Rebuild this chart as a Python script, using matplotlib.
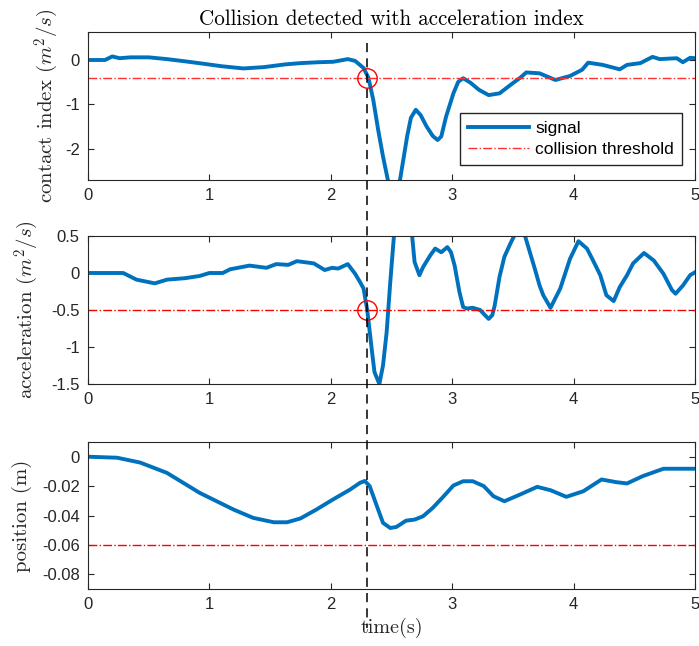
import numpy as np
import matplotlib
matplotlib.use("Agg")
import matplotlib.pyplot as plt
import matplotlib.transforms as mtransforms

plt.rcParams['mathtext.fontset'] = 'cm'
plt.rcParams['font.family'] = 'Liberation Sans'
plt.rcParams['axes.unicode_minus'] = False

# data
t_ci = [0, 0.14, 0.2, 0.26, 0.35, 0.5, 0.65, 0.8, 0.94, 1.1, 1.28, 1.45, 1.62,
        1.75, 1.9, 2.02, 2.14, 2.2, 2.27, 2.31, 2.35, 2.39, 2.43, 2.47, 2.52,
        2.57, 2.60, 2.63, 2.66, 2.70, 2.74, 2.79, 2.84, 2.88, 2.91, 2.95, 3.01,
        3.05, 3.09, 3.15, 3.22, 3.30, 3.39, 3.50, 3.56, 3.61, 3.72, 3.85, 3.97,
        4.07, 4.12, 4.24, 4.38, 4.44, 4.55, 4.65, 4.71, 4.85, 4.90, 4.96, 5.0]
ci = [0, 0, 0.08, 0.04, 0.06, 0.06, 0.02, -0.03, -0.08, -0.14, -0.19, -0.16,
      -0.1, -0.07, -0.05, -0.04, 0.02, -0.02, -0.18, -0.4, -0.9, -1.57, -2.17,
      -2.7, -3.0, -2.7, -2.2, -1.7, -1.3, -1.12, -1.24, -1.5, -1.71, -1.80,
      -1.72, -1.27, -0.75, -0.49, -0.41, -0.51, -0.67, -0.79, -0.75, -0.52,
      -0.4, -0.28, -0.3, -0.45, -0.36, -0.22, -0.06, -0.11, -0.21, -0.11,
      -0.07, 0.07, 0.02, 0.04, -0.05, 0.05, 0.04]

t_acc = [0, 0.29, 0.40, 0.55, 0.65, 0.8, 0.92, 1.0, 1.11, 1.17, 1.33, 1.47,
         1.55, 1.65, 1.72, 1.86, 1.95, 2.01, 2.06, 2.14, 2.20, 2.24, 2.27,
         2.30, 2.34, 2.36, 2.40, 2.43, 2.46, 2.49, 2.52, 2.56, 2.59, 2.63,
         2.67, 2.69, 2.73, 2.76, 2.82, 2.86, 2.91, 2.96, 2.99, 3.02, 3.06,
         3.09, 3.12, 3.17, 3.23, 3.27, 3.30, 3.33, 3.35, 3.39, 3.43, 3.48,
         3.51, 3.55, 3.60, 3.64, 3.68, 3.72, 3.75, 3.81, 3.89, 3.97, 4.04,
         4.11, 4.16, 4.22, 4.27, 4.33, 4.38, 4.44, 4.49, 4.58, 4.66, 4.74,
         4.81, 4.84, 4.90, 4.96, 5.0]
acc = [0, 0, -0.09, -0.14, -0.09, -0.07, -0.04, 0.0, 0.0, 0.05, 0.1, 0.07,
       0.12, 0.11, 0.16, 0.13, 0.04, 0.07, 0.06, 0.12, -0.01, -0.12, -0.21,
       -0.5, -1.07, -1.34, -1.5, -1.25, -0.80, -0.12, 0.5, 0.85, 1.0, 0.85,
       0.5, 0.15, -0.03, 0.08, 0.24, 0.33, 0.28, 0.35, 0.28, 0.10, -0.26,
       -0.46, -0.48, -0.47, -0.50, -0.57, -0.62, -0.57, -0.44, -0.05, 0.22,
       0.40, 0.5, 0.6, 0.5, 0.28, 0.06, -0.17, -0.30, -0.47, -0.21, 0.19,
       0.43, 0.33, 0.17, -0.03, -0.30, -0.38, -0.19, -0.03, 0.13, 0.27, 0.17,
       -0.01, -0.23, -0.28, -0.17, -0.03, 0.01]

t_pos = [0, 0.24, 0.43, 0.65, 0.92, 1.2, 1.36, 1.53, 1.64, 1.75, 1.88, 2.02,
         2.16, 2.24, 2.28, 2.32, 2.38, 2.43, 2.49, 2.54, 2.62, 2.69, 2.76,
         2.84, 2.93, 3.01, 3.09, 3.17, 3.26, 3.34, 3.43, 3.56, 3.70, 3.81,
         3.94, 4.08, 4.23, 4.35, 4.44, 4.57, 4.74, 5.0]
pos = [0, -0.0007, -0.004, -0.011, -0.0246, -0.036, -0.0416, -0.0446, -0.0446,
       -0.042, -0.036, -0.029, -0.0223, -0.0178, -0.0165, -0.020, -0.0337,
       -0.045, -0.0485, -0.0478, -0.0435, -0.0428, -0.0405, -0.0348, -0.0269,
       -0.0196, -0.0167, -0.0167, -0.0200, -0.0269, -0.0303, -0.0257,
       -0.0205, -0.0228, -0.0273, -0.0235, -0.0155, -0.0173, -0.0182,
       -0.0132, -0.0082, -0.0082]

t_hit = 2.3
thresholds = [-0.4, -0.5, -0.06]
x_ticks = [0, 1, 2, 3, 4, 5]
yticks_ci = [0, -1, -2]
yticklabels_ci = ['0', '-1', '-2']
yticks_acc = [0.5, 0, -0.5, -1, -1.5]
yticklabels_acc = ['0.5', '0', '-0.5', '-1', '-1.5']
yticks_pos = [0, -0.02, -0.04, -0.06, -0.08]
yticklabels_pos = ['0', '-0.02', '-0.04', '-0.06', '-0.08']

blue = '#0072BD'
W, H = 699, 646
fig = plt.figure(figsize=(W / 100, H / 100), dpi=100)


def _axes(top, bottom):
    return fig.add_axes([88 / W, 1 - bottom / H, (695 - 88) / W, (bottom - top) / H])


def _style(ax, ylim, yticks, ylabels, ylabel, pad):
    ax.set_xlim(0, 5)
    ax.set_ylim(*ylim)
    ax.set_xticks(x_ticks)
    ax.set_xticklabels([str(v) for v in x_ticks])
    ax.set_yticks(yticks)
    ax.set_yticklabels(ylabels)
    ax.tick_params(direction='in', top=True, right=True, length=4,
                   width=0.8, labelsize=12, colors='#262626', pad=6)
    for s in ax.spines.values():
        s.set_color('#262626')
        s.set_linewidth(0.8)
    ax.set_ylabel(ylabel, family='cmr10', fontsize=15, color='#262626', labelpad=pad)


ax1 = _axes(32, 180)
l1, = ax1.plot(t_ci, ci, color=blue, lw=2.8, label='signal')
l2 = ax1.axhline(thresholds[0], color='#ff3030', ls='-.', lw=1.0,
                 label='collision threshold')
ax1.plot([t_hit], [thresholds[0]], 'o', ms=14, mfc='none', mec='red', mew=1.0)
_style(ax1, (-2.7, 0.63), yticks_ci, yticklabels_ci, r'contact index $(m^2/s)$', 3)
ax1.set_title('Collision detected with acceleration index', family='cmr10',
              fontsize=15.2, pad=5)
ax1.legend(handles=[l1, l2], loc='upper right', bbox_to_anchor=(0.978, 0.453),
           borderaxespad=0, fontsize=12.5, handlelength=3.5, handletextpad=0.35,
           fancybox=False, edgecolor='#262626', framealpha=1, borderpad=0.45,
           labelspacing=0.35)

ax2 = _axes(236, 384)
ax2.plot(t_acc, acc, color=blue, lw=2.8)
ax2.axhline(thresholds[1], color='red', ls='-.', lw=1.0)
ax2.plot([t_hit], [thresholds[1]], 'o', ms=14, mfc='none', mec='red', mew=1.0)
_style(ax2, (-1.5, 0.5), yticks_acc, yticklabels_acc, r'acceleration $(m^2/s)$', 7)

ax3 = _axes(442, 589)
ax3.plot(t_pos, pos, color=blue, lw=2.8)
ax3.axhline(thresholds[2], color='red', ls='-.', lw=1.0)
_style(ax3, (-0.09, 0.01), yticks_pos, yticklabels_pos, 'position (m)', 7)
ax3.set_xlabel('time(s)', family='cmr10', fontsize=14.5, color='#262626', labelpad=4)

# vertical dashed marker through all panels
trans = mtransforms.blended_transform_factory(ax1.transData, fig.transFigure)
fig.add_artist(plt.Line2D([t_hit, t_hit], [1 - 43 / H, 1 - 628 / H],
                          transform=trans, color='black', lw=1.1,
                          ls=(0, (6, 4)), clip_on=False))

fig.savefig('out.png', dpi=100)
